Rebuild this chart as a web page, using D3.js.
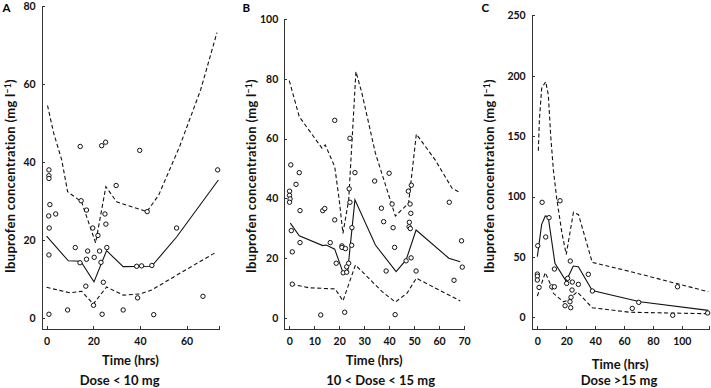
<!DOCTYPE html>
<html lang="en">
<head>
  <meta charset="utf-8">
  <title>Ibuprofen concentration</title>
  <script src="https://d3js.org/d3.v7.min.js"></script>
  <style>
    body { margin: 0; background: #fff; }
    svg { font-family: Lato, "DejaVu Sans", sans-serif; font-weight: bold; }
    .axis path, .axis line { fill: none; stroke: #333; stroke-width: 1; shape-rendering: crispEdges; }
    .axis text { font-family: Lato, sans-serif; font-size: 10.5px; font-weight: bold; fill: #111; }
    .med { fill: none; stroke: #111; stroke-width: 1.1; }
    .pi { fill: none; stroke: #111; stroke-width: 1.1; stroke-dasharray: 4 2.6; }
    .obs { fill: #fff; stroke: #111; stroke-width: 1; }
    .title { font-size: 13px; fill: #111; }
  </style>
</head>
<body>
<script>

// ---- data: [time (hrs), concentration (mg/l)] ----

// A: Dose < 10 mg
var obsA = [[1.0,38.0],[1.0,36.5],[1.0,35.8],[14.4,44.0],[23.6,44.2],[25.3,45.1],[39.9,43.0],[29.8,34.0],[73.3,38.0],
  [1.4,29.1],[0.9,26.2],[3.9,26.7],[1.1,23.1],[14.8,30.1],[17.1,27.7],[19.8,23.1],[22.0,21.2],[25.0,26.7],[25.4,24.1],
  [43.1,27.3],[55.7,23.1],[1.0,16.2],[12.3,18.1],[14.3,14.2],[17.6,17.2],[17.1,15.1],[20.4,15.6],[22.7,17.2],[23.3,14.3],
  [25.8,18.1],[38.6,13.3],[40.7,13.4],[45.1,13.5],[16.8,8.2],[24.3,9.2],[20.1,3.3],[39.0,5.2],[67.0,5.6],
  [1.0,1.0],[9.0,2.1],[23.8,1.0],[32.8,2.1],[45.9,0.9]];
var medianA = [[0,21.0],[9.3,14.7],[14.6,14.6],[20.3,9.3],[25.7,17.3],[32.8,13.2],[45,13.3],[55.7,20.8],[73.6,35.4]];
var lowerA = [[0,7.9],[10,6.5],[15,6.9],[20,3.6],[25.7,8.0],[32.8,5.9],[40,6.2],[45,7.2],[57.1,11.5],[72.9,17.0]];
var upperA = [[0.4,54.5],[3,47.5],[6.5,40.5],[9,32.4],[15,29.8],[21,19.3],[25.4,33.7],[30,29.8],[43,27.3],[48,31.5],
  [57,44],[66,58.5],[73,73.2]];

// B: 10 < Dose < 15 mg
var obsB = [[0.6,51.2],[18.2,66.1],[24.3,60.1],[4.0,48.6],[2.7,44.7],[26.3,48.6],[34.2,45.8],[40.0,48.4],[24.0,43.2],
  [48.9,44.4],[47.7,42.4],[0.1,42.4],[0.1,41.0],[0.3,39.8],[0.1,38.7],[4.3,35.9],[13.4,35.9],[14.2,36.6],[18.2,32.8],
  [24.3,38.7],[0.8,29.2],[4.3,25.2],[1.2,22.1],[16.4,25.2],[21.1,24.1],[21.1,23.6],[22.5,23.2],[25.1,30.2],[25.0,24.3],
  [18.8,18.3],[23.0,17.1],[23.8,18.3],[21.6,15.1],[23.0,15.3],[1.2,11.3],[12.6,1.0],[22.2,1.9],[42.4,1.1],
  [36.9,36.7],[41.2,38.1],[37.8,32.2],[41.6,30.2],[42.2,23.6],[48.4,38.1],[48.7,35.0],[48.1,32.0],[48.0,30.5],[48.5,29.9],
  [38.8,15.7],[46.8,19.1],[48.8,20.1],[50.8,15.7],[64.1,38.7],[69,25.8],[69.3,17.0],[66.0,12.6]];
var medianB = [[0.4,31.7],[4,27.5],[13.4,24.2],[14.8,24.4],[18.2,23.0],[21.4,15.5],[23.4,15.7],[26.3,39.5],[34.5,24.4],
  [42.8,15.5],[46.8,19.4],[50.8,29.4],[63.9,20.0],[68.5,18.8]];
var lowerB = [[0.8,11.3],[7.8,10.1],[18.4,9.7],[21.5,5.7],[26.5,17.7],[31.8,13.3],[37.2,8.8],[42.5,5.3],[47.2,8.3],
  [50.9,13.3],[59.9,9.4],[68.5,5.7]];
var upperB = [[0,79.4],[4,67.3],[13.1,56.8],[14.4,57.9],[18.2,50.6],[20,39.5],[21.5,28.3],[23.8,39.5],[26.7,82.4],
  [29.1,75.2],[34.5,55.1],[42.5,34.1],[47.8,38.4],[50.9,61.5],[58.5,52.8],[65.2,43.4],[68.5,41.9]];

// C: Dose > 15 mg
var obsC = [[3.3,95.2],[15.7,96.5],[8.1,82.5],[5.8,66.5],[0.3,59.3],[11.8,40.0],[22.8,46.6],[35.3,35.6],[0,35.8],
  [0,34.1],[0,30.9],[1.2,24.8],[10,25.3],[11.8,25.3],[21,32.3],[20.3,28.1],[24.2,29.2],[28.4,27.3],[24.0,22.6],
  [23.3,16.6],[22.6,12.9],[23.1,8.0],[19.2,9.6],[38.1,21.8],[65.7,7.4],[70.2,12.4],[93.7,1.7],[97,25.3],[117.9,3.6]];
var medianC = [[0,50.2],[3,77],[5.5,83.9],[7.5,83.3],[12.2,44.7],[19.9,30],[24.9,42.5],[28.4,41.9],[38,22.2],
  [71,12.9],[118.3,5.8]];
var lowerC = [[0,17.6],[5.5,37],[8.8,28.1],[11.1,19.9],[18,12.9],[21.5,14.3],[27.5,21.2],[38,8],[64,4.2],[118.3,3]];
var upperC = [[0.7,137.9],[1.4,163.3],[3.0,189.6],[5.8,195.1],[7.6,184.1],[9.3,149.5],[11.1,122],[13.4,98.5],
  [17,70],[20,52],[25,87],[28.5,85],[38,45.5],[64,38],[118.3,21.2]];

// tick labels
var xTicksA = [0, 20, 40, 60];
var yTicksA = [0, 20, 40, 60, 80];
var xTicksB = [0, 10, 20, 30, 40, 50, 60, 70];
var yTicksB = [0, 20, 40, 60, 80, 100];
var xTicksC = [0, 20, 40, 60, 80, 100];
var yTicksC = [0, 50, 100, 150, 200, 250];

var letters = ["A", "B", "C"];
var doseLabels = ["Dose < 10 mg", "10 < Dose < 15 mg", "Dose >15 mg"];

// ---- layout ----
var width = 711, height = 388;
var axisBottom = 328.7;

var panels = [
  { letter: letters[0], dose: doseLabels[0], obs: obsA, med: medianA, lo: lowerA, hi: upperA,
    xt: xTicksA, yt: yTicksA, xd: [-2.1, 74], yd: [-2.7, 80], left: 41.7, right: 219.3, top: 6,
    titleX: 14.5, letterX: 2.5, doseX: 119.7, timeY: 364.5 },
  { letter: letters[1], dose: doseLabels[1], obs: obsB, med: medianB, lo: lowerB, hi: upperB,
    xt: xTicksB, yt: yTicksB, xd: [-2, 70], yd: [-3.6, 100], left: 284.3, right: 464, top: 19,
    titleX: 255.5, letterX: 242.5, doseX: 380.7, timeY: 364.7 },
  { letter: letters[2], dose: doseLabels[2], obs: obsC, med: medianC, lo: lowerC, hi: upperC,
    xt: xTicksC, yt: yTicksC, xd: [-3.9, 118.6], yd: [-9.4, 250], left: 531.7, right: 708.7, top: 15.3,
    titleX: 493.5, letterX: 481.5, doseX: 619, timeY: 368.5 }
];

var svg = d3.select("body").append("svg")
  .attr("width", width)
  .attr("height", height);

panels.forEach(function(p) {
  var x = d3.scaleLinear().domain(p.xd).range([p.left, p.right]);
  var y = d3.scaleLinear().domain(p.yd).range([axisBottom, p.top]);

  var g = svg.append("g");

  // axes, ticks point inwards
  g.append("g").attr("class", "axis")
    .attr("transform", "translate(0," + axisBottom + ")")
    .call(d3.axisBottom(x).tickValues(p.xt).tickSize(-3).tickSizeOuter(-3).tickPadding(9));

  g.append("g").attr("class", "axis")
    .attr("transform", "translate(" + p.left + ",0)")
    .call(d3.axisLeft(y).tickValues(p.yt).tickSize(-3).tickSizeOuter(0).tickPadding(6));

  var line = d3.line()
    .x(function(d) { return x(d[0]); })
    .y(function(d) { return y(d[1]); });

  g.append("path").datum(p.hi).attr("class", "pi").attr("d", line);
  g.append("path").datum(p.lo).attr("class", "pi").attr("d", line);
  g.append("path").datum(p.med).attr("class", "med").attr("d", line);

  g.selectAll("circle.obs")
    .data(p.obs)
    .enter().append("circle")
    .attr("class", "obs")
    .attr("cx", function(d) { return x(d[0]); })
    .attr("cy", function(d) { return y(d[1]); })
    .attr("r", 2.2);

  // panel letter
  g.append("text")
    .attr("x", p.letterX).attr("y", 12)
    .style("font-size", "11.5px")
    .text(p.letter);

  // y title
  var yt = g.append("text")
    .attr("class", "title")
    .attr("transform", "translate(" + p.titleX + ",176) rotate(-90)")
    .attr("text-anchor", "middle")
    .style("letter-spacing", "0.3px");
  yt.append("tspan").text("Ibuprofen concentration (mg l");
  yt.append("tspan").attr("dy", -4).style("font-size", "8.5px").text("\u22121");
  yt.append("tspan").attr("dy", 4).text(")");

  // x titles
  g.append("text")
    .attr("class", "title")
    .attr("x", (p.left + p.right) / 2).attr("y", p.timeY)
    .attr("text-anchor", "middle")
    .text("Time (hrs)");

  g.append("text")
    .attr("class", "title")
    .attr("x", p.doseX).attr("y", 384.8)
    .attr("text-anchor", "middle")
    .text(p.dose);
});

</script>
</body>
</html>
